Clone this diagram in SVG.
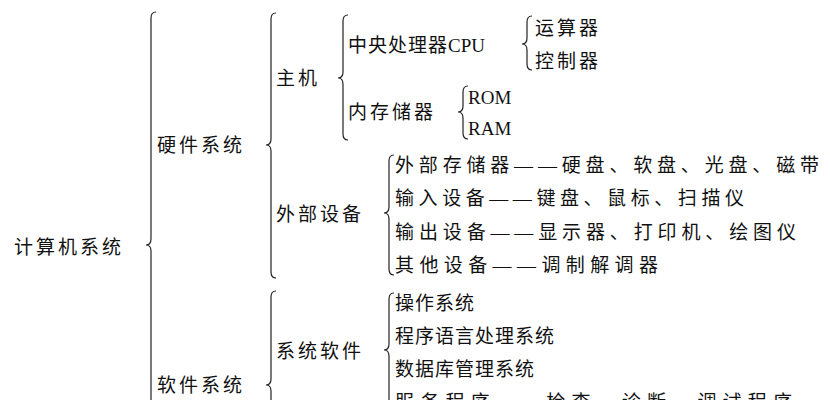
<svg xmlns="http://www.w3.org/2000/svg" width="830" height="400" viewBox="0 0 830 400">
<style>
text{font-family:"Liberation Serif","Noto Sans CJK SC",serif;font-size:19px;fill:#111;letter-spacing:3px}
text.t{letter-spacing:1px}
text.l{letter-spacing:0}
.b{fill:none;stroke:#222;stroke-width:1.2}
</style>
<rect width="830" height="400" fill="#fff"/>
<g id="connectors">
<path class="b" d="M156 12 Q151 12 151 18 L151 239 Q151 245 146 245 Q151 245 151 251 L151 420"/>
<path class="b" d="M276 13 Q271 13 271 19 L271 139 Q271 145 266 145 Q271 145 271 151 L271 272 Q271 278 276 278"/>
<path class="b" d="M348 15 Q343 15 343 21 L343 72 Q343 78 338 78 Q343 78 343 84 L343 134 Q343 140 348 140"/>
<path class="b" d="M532 16 Q527 16 527 22 L527 38 Q527 44 522 44 Q527 44 527 50 L527 64 Q527 70 532 70"/>
<path class="b" d="M468 86 Q463 86 463 92 L463 106 Q463 112 458 112 Q463 112 463 118 L463 133 Q463 139 468 139"/>
<path class="b" d="M394 155 Q389 155 389 161 L389 207 Q389 213 384 213 Q389 213 389 219 L389 269 Q389 275 394 275"/>
<path class="b" d="M276 291 Q271 291 271 297 L271 379 Q271 385 266 385 Q271 385 271 391 L271 420"/>
<path class="b" d="M394 293 Q389 293 389 299 L389 344 Q389 350 384 350 Q389 350 389 356 L389 420"/>
</g>
<g id="n-root"><text x="14" y="254">计算机系统</text></g>
<g id="n-hw"><text x="157" y="152">硬件系统</text></g>
<g id="n-host"><text x="276" y="85">主机</text></g>
<g id="n-cpu"><text class="t" x="348" y="52">中央处理器<tspan style="letter-spacing:0">CPU</tspan></text></g>
<g id="n-alu"><text x="535" y="35">运算器</text></g>
<g id="n-ctl"><text x="535" y="68">控制器</text></g>
<g id="n-mem"><text x="348" y="119">内存储器</text></g>
<g id="n-rom"><text class="l" x="468" y="104">ROM</text></g>
<g id="n-ram"><text class="l" x="468" y="135">RAM</text></g>
<g id="n-ext"><text x="276" y="221">外部设备</text></g>
<g id="n-e1"><text x="395" y="172" textLength="427" lengthAdjust="spacing">外部存储器——硬盘、软盘、光盘、磁带</text></g>
<g id="n-e2"><text x="395" y="205" textLength="352" lengthAdjust="spacing">输入设备——键盘、鼠标、扫描仪</text></g>
<g id="n-e3"><text x="395" y="239" textLength="404" lengthAdjust="spacing">输出设备——显示器、打印机、绘图仪</text></g>
<g id="n-e4"><text x="395" y="272" textLength="266" lengthAdjust="spacing">其他设备——调制解调器</text></g>
<g id="n-sw"><text x="157" y="392">软件系统</text></g>
<g id="n-sys"><text x="276" y="358">系统软件</text></g>
<g id="n-s1"><text class="t" x="395" y="310">操作系统</text></g>
<g id="n-s2"><text class="t" x="395" y="343">程序语言处理系统</text></g>
<g id="n-s3"><text class="t" x="395" y="376">数据库管理系统</text></g>
<g id="n-s4"><text x="395" y="409" textLength="400" lengthAdjust="spacing">服务程序——检查、诊断、调试程序</text></g>
</svg>
